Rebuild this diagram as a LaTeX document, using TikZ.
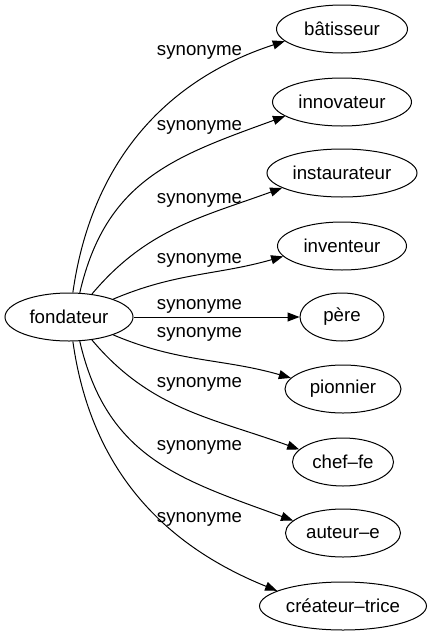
\documentclass[tikz,border=0pt]{standalone}
\usepackage{fontspec}
\setmainfont{Liberation Sans}
\usepackage{tikz}
\usetikzlibrary{shapes.geometric, arrows.meta}

\begin{document}
\begin{tikzpicture}
            [every node/.style={inner sep=0pt, font=\fontsize{18.67pt}{22pt}\selectfont},
             word/.style={ellipse, minimum height=48pt, fill=white, line width=1pt, draw=black},
             syn/.style={line width=1pt, -{Triangle[length=12pt, width=9pt]}, color=black}]
                \useasboundingbox (0pt, 0pt) rectangle (432pt, -635pt);
                \node (fondateur) [word, minimum width=128pt] at (69pt, -317pt) {fondateur};
                \node (batisseur) [word, minimum width=131pt] at (342pt, -29pt) {bâtisseur};
                \node (innovateur) [word, minimum width=139pt] at (342pt, -102pt) {innovateur};
                \node (instaurateur) [word, minimum width=150pt] at (342pt, -173pt) {instaurateur};
                \node (inventeur) [word, minimum width=129pt] at (342pt, -246pt) {inventeur};
                \node (pere) [word, minimum width=84pt] at (342pt, -317pt) {père};
                \node (pionnier) [word, minimum width=116pt] at (343pt, -389pt) {pionnier};
                \node (cheffe) [word, minimum width=101pt] at (343pt, -462pt) {chef–fe};
                \node (auteure) [word, minimum width=115pt] at (343pt, -533pt) {auteur–e};
                \node (createurtrice) [word, minimum width=167pt] at (343pt, -606pt) {créateur–trice};
                \draw [syn] (fondateur.81) to[out=82, in=198] (batisseur.192);
                \draw [syn] (fondateur.66) to[out=77, in=200, looseness=1.1] (innovateur.194);
                \draw [syn] (fondateur.45) to[out=50, in=200] (instaurateur.194);
                \draw [syn] (fondateur.22) to[out=23, in=196] (inventeur.190);
                \draw [syn] (fondateur.east) to (pere.west);
                \draw [syn] (fondateur.338) to[out=-23, in=164] (pionnier.168);
                \draw [syn] (fondateur.315) to[out=-50, in=160] (cheffe.164);
                \draw [syn] (fondateur.294) to[out=-77, in=160, looseness=1.1] (auteure.166);
                \draw [syn] (fondateur.279) to[out=-82, in=158] (createurtrice.167);
                \node (s1) at (199.5pt, -52.5pt) {synonyme};
                \node (s2) at (199.5pt, -127.5pt) {synonyme};
                \node (s3) at (199.5pt, -200pt) {synonyme};
                \node (s4) at (199.5pt, -260pt) {synonyme};
                \node (s5) at (199.5pt, -306.5pt) {synonyme};
                \node (s6) at (199.5pt, -334pt) {synonyme};
                \node (s7) at (199.5pt, -384.5pt) {synonyme};
                \node (s8) at (199.5pt, -447pt) {synonyme};
                \node (s9) at (199.5pt, -519.5pt) {synonyme};
            \end{tikzpicture}
\end{document}
